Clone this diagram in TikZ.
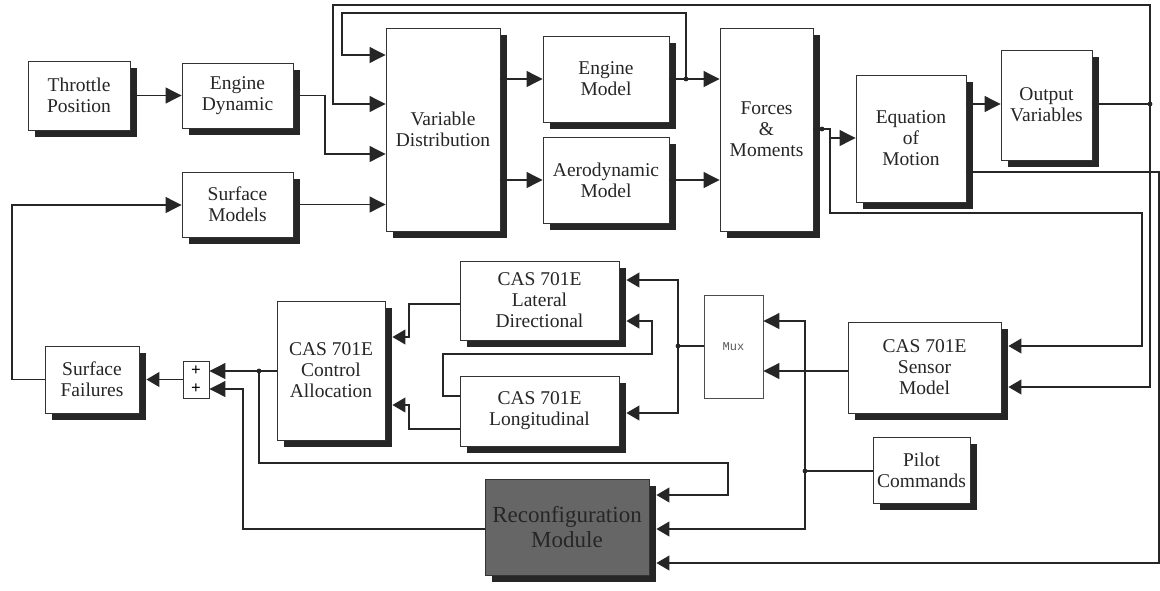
\documentclass[tikz,border=0pt]{standalone}
\usepackage{fontspec}
\setmainfont{Liberation Serif}
\setmonofont{Liberation Mono}
\usetikzlibrary{shadows,calc,arrows.meta}
\begin{document}
\begin{tikzpicture}[x=1pt,y=-1pt,
  blk/.style={draw=black!80, line width=0.9pt, fill=white, align=center, inner sep=0pt, text=black!85,
     font=\fontsize{19.5}{21}\selectfont,
     drop shadow={shadow xshift=7pt, shadow yshift=-7pt, opacity=1, fill=black!85}},
  plainbox/.style={draw=black!80, line width=0.9pt, fill=white, align=center, inner sep=0pt},
  wire/.style={line width=1.1pt, draw=black!85},
  arr/.style={wire, -{Triangle[length=16pt,width=16pt]}},
  larr/.style={wire, -{Triangle[length=13pt,width=15pt]}},
]
\fill[white] (0,0) rectangle (1160,590);
\useasboundingbox (0,0) rectangle (1160,590);

% blocks
\node[blk, minimum width=102pt, minimum height=69pt] (thr) at (79,95.5) {Throttle\\Position};
\node[blk, minimum width=111pt, minimum height=65pt] (engdyn) at (237.5,95.5) {Engine\\Dynamic};
\node[blk, minimum width=111pt, minimum height=65pt] (surfmod) at (237.5,204.5) {Surface\\Models};
\node[blk, minimum width=114pt, minimum height=203pt] (vd) at (443,129.5) {Variable\\Distribution};
\node[blk, minimum width=126pt, minimum height=86pt] (engmod) at (606,79) {Engine\\Model};
\node[blk, minimum width=126pt, minimum height=86pt] (aero) at (606,180) {Aerodynamic\\Model};
\node[blk, minimum width=93pt, minimum height=203pt] (forces) at (766.5,129.5) {Forces\\\&\\Moments};
\node[blk, minimum width=110pt, minimum height=127pt] (eom) at (911,138.5) {Equation\\of\\Motion};
\node[blk, minimum width=91pt, minimum height=110pt] (outv) at (1046.5,105) {Output\\Variables};
\node[blk, minimum width=159pt, minimum height=79pt] (lat) at (539.5,300.5) {CAS 701E\\Lateral\\Directional};
\node[blk, minimum width=159pt, minimum height=70pt] (lon) at (539.5,411) {CAS 701E\\Longitudinal};
\node[blk, minimum width=108pt, minimum height=139pt] (ca) at (331,370.5) {CAS 701E\\Control\\Allocation};
\node[plainbox, draw=black!70, minimum width=59pt, minimum height=103pt, font=\ttfamily\fontsize{12}{14}\selectfont, text=black!65] (mux) at (733.5,346.5) {Mux};
\node[blk, minimum width=153pt, minimum height=91pt] (sensor) at (924.5,367.5) {CAS 701E\\Sensor\\Model};
\node[blk, minimum width=97pt, minimum height=66pt] (pilot) at (921.5,470) {Pilot\\Commands};
\node[blk, fill=black!60, text=black!85, font=\fontsize{23}{25}\selectfont, minimum width=164pt, minimum height=96pt] (reconf) at (567,527) {Reconfiguration\\Module};
\node[plainbox, minimum width=26pt, minimum height=37pt, font=\bfseries\fontsize{17}{18}\selectfont] (sum) at (196,379.5) {+\\+};
\node[blk, minimum width=94pt, minimum height=67pt] (sfail) at (92,379.5) {Surface\\Failures};

% junctions
\coordinate (j1) at (686,79);
\coordinate (j2) at (822,129);
\coordinate (j3) at (1150,104);
\coordinate (j4) at (805,471);
\coordinate (j5) at (678,346);
\coordinate (j6) at (259,371);

% connectors
\draw[arr] (thr.east) -- (engdyn.west);
\draw[arr] (engdyn.east) -| (325,154) -- (vd.west |- 0,154);
\draw[arr] (surfmod.east) -- (vd.west |- surfmod.east);
\draw[arr] (vd.east |- 0,79) -- (engmod.west);
\draw[arr] (vd.east |- 0,180) -- (aero.west);
\draw[arr] (engmod.east) -- (forces.west |- engmod.east);
\draw[arr] (j1) |- (342,13) |- (vd.west |- 0,55);
\draw[arr] (aero.east) -- (forces.west |- aero.east);
\draw[wire] (forces.east |- j2) -- (830,129) -- (830,138);
\draw[arr] (830,138) -- (eom.west |- 0,138);
\draw[larr] (830,138) |- (1142,213) |- ($(sensor.east |- 0,346)+(7,0)$);
\draw[arr] (eom.east |- 0,104) -- (outv.west |- 0,104);
\draw[wire] (outv.east |- j3) -- (j3);
\draw[larr] (j3) |- ($(sensor.east |- 0,387)+(7,0)$);
\draw[arr] (j3) |- (333,5) |- (vd.west |- 0,104);
\draw[larr] (eom.east |- 0,172) -| (1159,563) -- ($(reconf.east |- 0,563)+(7,0)$);
\draw[arr] (sensor.west |- 0,371) -- (mux.east |- 0,371);
\draw[wire] (pilot.west |- j4) -- (j4);
\draw[arr] (j4) |- (mux.east |- 0,321);
\draw[larr] (j4) |- ($(reconf.east |- 0,529)+(7,0)$);
\draw[wire] (mux.west |- j5) -- (j5);
\draw[larr] (j5) |- ($(lat.east |- 0,280)+(7,0)$);
\draw[larr] (j5) |- ($(lon.east |- 0,413)+(7,0)$);
\draw[larr] (lon.west |- 0,396) -| (443,354) -| (652,321) -- ($(lat.east |- 0,321)+(7,0)$);
\draw[larr] (lat.west |- 0,304) -| (409,337) -- ($(ca.east |- 0,337)+(7,0)$);
\draw[larr] (lon.west |- 0,429) -| (409,405) -- ($(ca.east |- 0,405)+(7,0)$);
\draw[arr] (ca.west |- j6) -- (sum.east |- j6);
\draw[larr] (j6) |- (728,463) |- ($(reconf.east |- 0,495)+(7,0)$);
\draw[arr] (reconf.west |- 0,529) -| (243,389) -- (sum.east |- 0,389);
\draw[larr] (sum.west) -- ($(sfail.east)+(7,0)$);
\draw[arr] (sfail.west) -| (12,205) -- (surfmod.west |- 0,205);

\foreach \j in {j1,j2,j3,j4,j5,j6} \fill[black!85] (\j) circle[radius=2.4pt];
\end{tikzpicture}
\end{document}
